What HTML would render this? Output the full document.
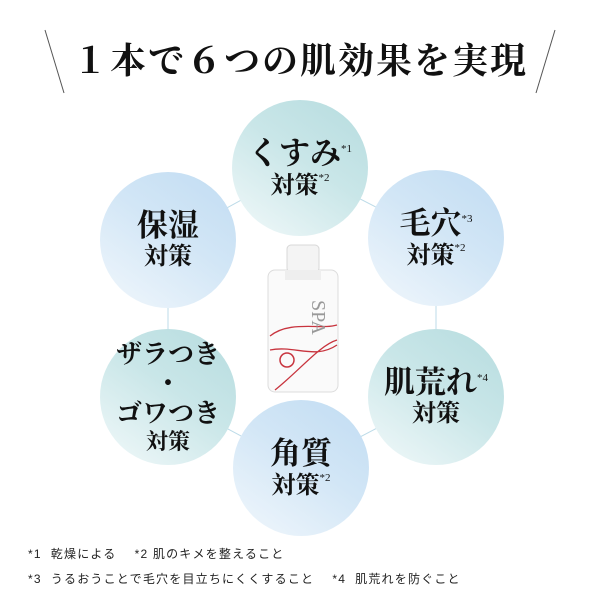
<!DOCTYPE html>
<html><head><meta charset="utf-8"><style>
body{margin:0;width:600px;height:600px;background:#fff;position:relative;overflow:hidden;font-family:"Liberation Serif","Noto Serif CJK SC",serif;color:#111}
.c{position:absolute;width:136px;height:136px;border-radius:50%;display:flex;flex-direction:column;align-items:center;justify-content:center;text-align:center;line-height:1.15;font-weight:bold}
.t{background:linear-gradient(35deg,#f2f9fa 0%,#c9e6e8 55%,#b6dcdf 100%)}
.b{background:linear-gradient(35deg,#f1f7fc 0%,#d2e6f6 55%,#c1dcf2 100%)}
.big{font-size:31px}.sm{font-size:24px}
sup{font-size:11px;vertical-align:12px;font-weight:normal}
.h{position:absolute;top:33px;left:0;width:600px;text-align:center;font-size:36px;font-weight:bold;letter-spacing:2px}
.fn{position:absolute;left:28px;font-family:"Liberation Sans","Noto Sans CJK JP",sans-serif;font-size:12px;color:#222;letter-spacing:1.2px}
</style></head><body>
<svg width="600" height="600" style="position:absolute;left:0;top:0">
<line x1="45" y1="30" x2="64" y2="93" stroke="#555" stroke-width="1"/>
<line x1="555" y1="30" x2="536" y2="93" stroke="#555" stroke-width="1"/>
<polygon points="300,168 436,238 436,397 301,468 168,397 168,240" fill="none" stroke="#bcdbe8" stroke-width="1"/>
<g>
<rect x="268" y="270" width="70" height="122" rx="7" fill="#fafafa" stroke="#dcdcdc"/>
<rect x="287" y="245" width="32" height="27" rx="4" fill="#f4f4f4" stroke="#d8d8d8"/>
<rect x="285" y="270" width="36" height="10" fill="#eee"/>
<path d="M270 336 C290 320,320 330,337 325 M270 350 C295 345,315 360,337 345 M275 390 C300 370,320 345,337 340" stroke="#c8343e" stroke-width="1.3" fill="none"/>
<circle cx="287" cy="360" r="7" fill="none" stroke="#c8343e" stroke-width="1.5"/>
<text x="312" y="300" font-size="20" fill="#999" font-family="Liberation Serif" transform="rotate(90 312 300)">SPA</text>
</g>
</svg>
<div class="h">１本で６つの肌効果を実現</div>
<div class="c t" style="left:232px;top:100px"><div class="big">くすみ<sup>*1</sup></div><div class="sm">対策<sup>*2</sup></div></div>
<div class="c b" style="left:100px;top:172px"><div class="big">保湿</div><div class="sm">対策</div></div>
<div class="c b" style="left:368px;top:170px"><div class="big">毛穴<sup>*3</sup></div><div class="sm">対策<sup>*2</sup></div></div>
<div class="c t" style="left:100px;top:329px"><div style="font-size:26px">ザラつき<br>・<br>ゴワつき</div><div style="font-size:22px">対策</div></div>
<div class="c t" style="left:368px;top:329px"><div class="big">肌荒れ<sup>*4</sup></div><div class="sm">対策</div></div>
<div class="c b" style="left:233px;top:400px"><div class="big">角質</div><div class="sm">対策<sup>*2</sup></div></div>
<div class="fn" style="top:545px">*1&nbsp; 乾燥による&nbsp;&nbsp;&nbsp; *2 肌のキメを整えること</div>
<div class="fn" style="top:570px">*3&nbsp; うるおうことで毛穴を目立ちにくくすること&nbsp;&nbsp;&nbsp; *4&nbsp; 肌荒れを防ぐこと</div>
</body></html>
